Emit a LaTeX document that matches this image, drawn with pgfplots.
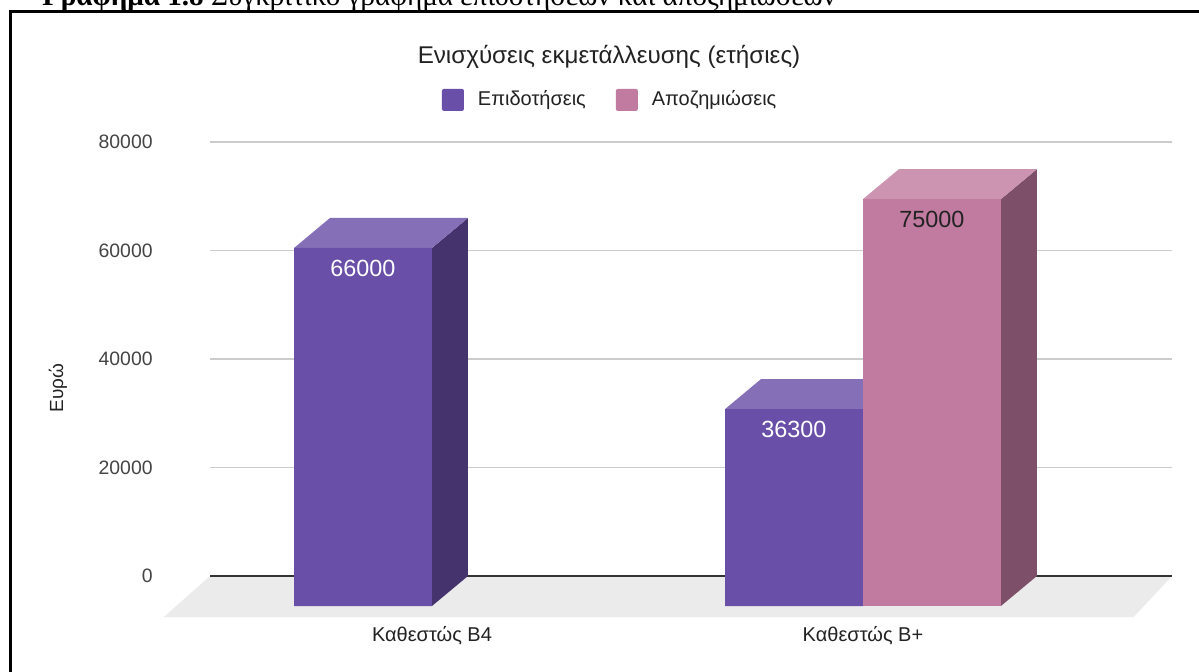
\documentclass[border=0pt]{standalone}
\usepackage{fontspec}
\setmainfont{Liberation Sans}
\newfontfamily\capfont{Liberation Serif}
\usepackage{pgfplots}
\usepackage{pgfplotstable}
\pgfplotsset{compat=1.18}

\definecolor{pfront}{HTML}{6A4FA9}
\definecolor{ptop}{HTML}{8570B8}
\definecolor{pside}{HTML}{45336E}
\definecolor{kfront}{HTML}{C17BA0}
\definecolor{ktop}{HTML}{CD94B2}
\definecolor{kside}{HTML}{7D4F68}
\definecolor{floorc}{HTML}{EBEBEB}
\definecolor{gridc}{HTML}{CCCCCC}
\definecolor{zeroc}{HTML}{333333}
\definecolor{txt}{HTML}{222222}
\definecolor{ticktxt}{HTML}{444444}

% Ενισχύσεις (ευρώ) ανά καθεστώς: 0 = Καθεστώς Β4, 1 = Καθεστώς Β+
\pgfplotstableread{
x v
0 66000
1 36300
}\epid
\pgfplotstableread{
x v
1 75000
}\apoz

\begin{document}
\begin{tikzpicture}
\useasboundingbox (0pt,0pt) rectangle (599.5pt,335.5pt);
\node[anchor=base west, inner sep=0pt, font=\capfont\fontsize{14.55}{16}\selectfont] at (21pt,332.75pt)
  {\textbf{Γράφημα 1.8} Συγκριτικό γράφημα επιδοτήσεων και αποζημιώσεων};
\draw[line width=1.5pt] (5.25pt,-2pt) -- (5.25pt,329.75pt) -- (602pt,329.75pt);

\begin{axis}[
  scale only axis, width=481pt, height=217pt,
  at={(105pt,47.5pt)}, anchor=south west,
  xmin=-0.515, xmax=1.717, ymin=0, ymax=80000,
  clip=false,
  axis line style={draw=none},
  major tick length=0pt,
  ytick={0,20000,40000,60000,80000},
  ymajorgrids, grid style={gridc, line width=0.6pt},
  scaled y ticks=false,
  yticklabel style={/pgf/number format/1000 sep={}, /pgf/number format/assume math mode=true,
     font=\fontsize{9.7}{11}\selectfont, text=ticktxt, anchor=east, inner sep=0pt, xshift=-28.5pt},
  xtick={0,1}, xticklabels={Καθεστώς Β4, Καθεστώς Β+},
  xticklabel style={anchor=center, inner sep=0pt, yshift=-30pt, font=\fontsize{10}{12}\selectfont, text=txt},
  ylabel={Ευρώ},
  ylabel style={at={(axis description cs:-0.158,0.433)}, anchor=center, font=\fontsize{9.5}{11}\selectfont, text=txt},
  legend style={at={(axis description cs:0.417,1.097)}, anchor=center, draw=none, fill=none,
     legend columns=2, font=\fontsize{10}{12}\selectfont, text=txt,
     /tikz/every even column/.append style={column sep=13pt}},
  legend image code/.code={\fill[#1, draw=none, rounded corners=1pt] (0pt,-5.5pt) rectangle (11pt,5.5pt);
     \path[draw=none, fill=none] (16pt,0pt);},
]
% floor
\addplot[fill=floorc, draw=none, forget plot] coordinates {(-0.515,0) (1.717,0) (1.628,-7558) (-0.622,-7558)} -- cycle;
% zero line
\addplot[zeroc, line width=1pt, forget plot] coordinates {(-0.515,0) (1.717,0)};

% Καθεστώς Β4, Επιδοτήσεις: side and top faces
\addplot[fill=pside, draw=none, forget plot] coordinates {(0,-5530) (0.0835,0) (0.0835,66000) (0,60470)} -- cycle;
\addplot[fill=ptop, draw=none, forget plot] coordinates {(-0.32,60470) (0,60470) (0.0835,66000) (-0.2365,66000)} -- cycle;
% Καθεστώς Β+, Επιδοτήσεις: top face
\addplot[fill=ptop, draw=none, forget plot] coordinates {(0.68,30770) (1,30770) (1.0835,36300) (0.7635,36300)} -- cycle;
% Επιδοτήσεις front faces
\addplot[ybar, bar width=0.32, bar shift=-0.16, fill=pfront, draw=none, yshift=-15pt, forget plot,
  nodes near coords={\pgfmathprintnumber[fixed,precision=0,1000 sep={},assume math mode=true]{\pgfplotspointmeta}},
  every node near coord/.append style={white, anchor=center, xshift=-34.5pt, yshift=-10pt, font=\fontsize{11.7}{13}\selectfont}]
  table[x=x, y=v] {\epid};

% Καθεστώς Β+, Αποζημιώσεις: side and top faces
\addplot[fill=kside, draw=none, forget plot] coordinates {(1.32,-5530) (1.4035,0) (1.4035,75000) (1.32,69470)} -- cycle;
\addplot[fill=ktop, draw=none, forget plot] coordinates {(1,69470) (1.32,69470) (1.4035,75000) (1.0835,75000)} -- cycle;
\addplot[ybar, bar width=0.32, bar shift=0.16, fill=kfront, draw=none, yshift=-15pt, forget plot,
  nodes near coords={\pgfmathprintnumber[fixed,precision=0,1000 sep={},assume math mode=true]{\pgfplotspointmeta}},
  every node near coord/.append style={txt, anchor=center, xshift=34.5pt, yshift=-10pt, font=\fontsize{11.7}{13}\selectfont}]
  table[x=x, y=v] {\apoz};

\addlegendimage{fill=pfront}
\addlegendentry{Επιδοτήσεις}
\addlegendimage{fill=kfront}
\addlegendentry{Αποζημιώσεις}
\end{axis}

\node[font=\fontsize{12.1}{14}\selectfont, text=txt] at (304.5pt,307pt) {Ενισχύσεις εκμετάλλευσης (ετήσιες)};
\end{tikzpicture}
\end{document}
